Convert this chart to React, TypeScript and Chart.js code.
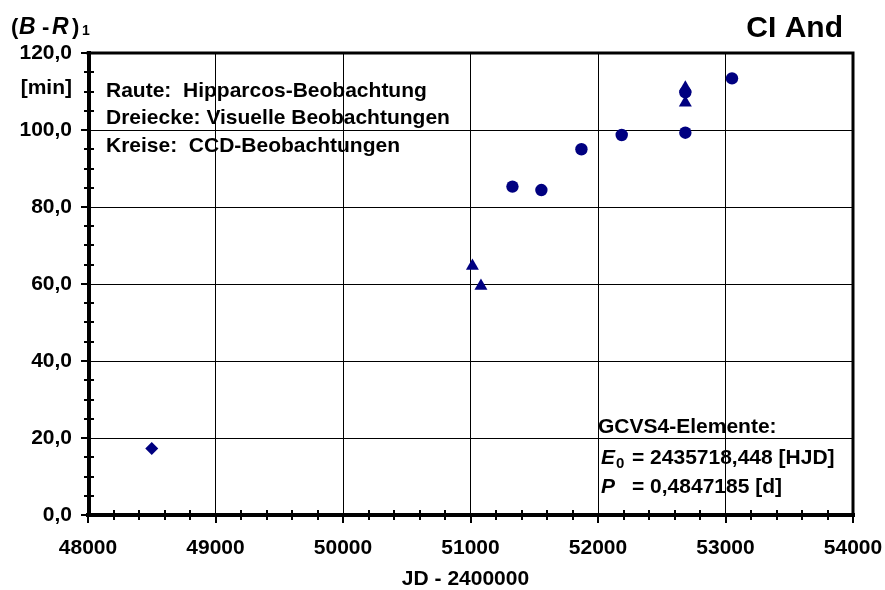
import { useEffect, useRef } from 'react';
import { Chart, registerables } from 'chart.js';

Chart.register(...registerables);

// ---- data ----
const hipparcosX = [48500];
const hipparcosY = [17.3];
const visualX = [51015, 51082, 52685, 52685];
const visualY = [64.7, 59.5, 111.0, 107.1];
const ccdX = [51329, 51556, 51870, 52186, 52685, 52685, 53051];
const ccdY = [85.3, 84.4, 95.0, 98.7, 99.3, 109.8, 113.4];

const xMin = 48000;
const xMax = 54000;
const xStep = 1000;
const xMinorStep = 200;
const yMin = 0;
const yMax = 120;
const yStep = 20;
const yMinorStep = 5;

const chartTitle = 'CI And';
const xAxisTitle = 'JD - 2400000';
const yUnit = '[min]';
const legendLines = [
  'Raute:  Hipparcos-Beobachtung',
  'Dreiecke: Visuelle Beobachtungen',
  'Kreise:  CCD-Beobachtungen',
];
const elementsTitle = 'GCVS4-Elemente:';
const epochText = '= 2435718,448 [HJD]';
const periodText = '= 0,4847185 [d]';

const FONT = '"Liberation Sans", Arial, Helvetica, sans-serif';
const NAVY = '#000080';

const toPoints = (xs: number[], ys: number[]) => xs.map((x, i) => ({ x, y: ys[i] }));

const overlay = {
  id: 'overlay',
  beforeDatasetsDraw(chart: any) {
    const ctx = chart.ctx;
    const { left, right, top, bottom } = chart.chartArea;
    const xs = chart.scales.x;
    const ys = chart.scales.y;
    ctx.save();
    ctx.strokeStyle = '#000';
    // frame
    ctx.lineCap = 'square';
    ctx.lineWidth = 3;
    ctx.beginPath();
    ctx.moveTo(left, top);
    ctx.lineTo(right, top);
    ctx.lineTo(right, bottom);
    ctx.stroke();
    ctx.lineWidth = 4;
    ctx.beginPath();
    ctx.moveTo(left + 1, top);
    ctx.lineTo(left + 1, bottom);
    ctx.moveTo(left, bottom);
    ctx.lineTo(right, bottom);
    ctx.stroke();
    // ticks
    ctx.lineCap = 'butt';
    ctx.lineWidth = 2;
    ctx.beginPath();
    for (let v = yMin; v <= yMax + 1e-9; v += yMinorStep) {
      const py = Math.round(ys.getPixelForValue(v));
      if (v % yStep === 0) {
        ctx.moveTo(left - 7, py);
        ctx.lineTo(left + 1, py);
      } else {
        ctx.moveTo(left - 4, py);
        ctx.lineTo(left + 6, py);
      }
    }
    for (let v = xMin; v <= xMax + 1e-9; v += xMinorStep) {
      const px = Math.round(xs.getPixelForValue(v));
      if (v % xStep === 0) {
        ctx.moveTo(px, bottom);
        ctx.lineTo(px, bottom + 8);
      } else {
        ctx.moveTo(px, bottom - 5);
        ctx.lineTo(px, bottom + 5);
      }
    }
    ctx.stroke();
    ctx.restore();
  },
  afterDraw(chart: any) {
    const ctx = chart.ctx;
    const { left, right } = chart.chartArea;
    ctx.save();
    ctx.fillStyle = '#000';
    ctx.textBaseline = 'alphabetic';

    // chart title
    ctx.font = `bold 30px ${FONT}`;
    ctx.textAlign = 'right';
    ctx.fillText(chartTitle, 843, 37);

    // y axis heading (B - R)1
    const plain = `bold 21px ${FONT}`;
    const ital = `italic bold 21px ${FONT}`;
    const hPlain = `bold 22px ${FONT}`;
    const hItal = `italic bold 23px ${FONT}`;
    ctx.textAlign = 'left';
    ctx.font = hPlain;
    ctx.fillText('(', 11, 34);
    ctx.font = hItal;
    ctx.fillText('B', 19, 34);
    ctx.font = hPlain;
    ctx.fillText('-', 42, 34);
    ctx.font = hItal;
    ctx.fillText('R', 52, 34);
    ctx.font = hPlain;
    ctx.fillText(')', 72, 34);
    ctx.font = `bold 14px ${FONT}`;
    ctx.fillText('1', 82, 35);

    // unit
    ctx.font = plain;
    ctx.textAlign = 'right';
    ctx.fillText(yUnit, 72, 94);

    // legend text
    ctx.textAlign = 'left';
    const legendBase = [97, 124, 152];
    legendLines.forEach((t, i) => ctx.fillText(t, 106, legendBase[i]));

    // elements
    ctx.fillText(elementsTitle, 598, 433);
    ctx.font = ital;
    ctx.fillText('E', 601, 464);
    ctx.font = `bold 15px ${FONT}`;
    ctx.fillText('0', 616, 468);
    ctx.font = plain;
    ctx.fillText(epochText, 632, 464);
    ctx.font = ital;
    ctx.fillText('P', 601, 493);
    ctx.font = plain;
    ctx.fillText(periodText, 632, 493);

    // x axis title
    ctx.textAlign = 'center';
    ctx.fillText(xAxisTitle, (left + right) / 2 - 5, 585);
    ctx.restore();
  },
};

export default function App() {
  const ref = useRef<HTMLCanvasElement | null>(null);
  useEffect(() => {
    if (!ref.current) return;
    const chart = new Chart(ref.current, {
      type: 'scatter',
      data: {
        datasets: [
          {
            label: 'Hipparcos',
            data: toPoints(hipparcosX, hipparcosY),
            pointStyle: 'rectRot',
            pointRadius: 6.5,
            backgroundColor: NAVY,
            borderColor: NAVY,
            borderWidth: 0,
          },
          {
            label: 'Visuell',
            data: toPoints(visualX, visualY),
            pointStyle: 'triangle',
            pointRadius: 7.5,
            backgroundColor: NAVY,
            borderColor: NAVY,
            borderWidth: 0,
          },
          {
            label: 'CCD',
            data: toPoints(ccdX, ccdY),
            pointStyle: 'circle',
            pointRadius: 6.2,
            backgroundColor: NAVY,
            borderColor: NAVY,
            borderWidth: 0,
          },
        ],
      },
      plugins: [overlay],
      options: {
        animation: false,
        responsive: false,
        maintainAspectRatio: false,
        devicePixelRatio: 1,
        layout: { padding: { left: 0, top: 53, right: 32, bottom: 0 } },
        plugins: {
          legend: { display: false },
          tooltip: { enabled: false },
          title: { display: false },
        },
        scales: {
          x: {
            type: 'linear',
            min: xMin,
            max: xMax,
            afterFit: (s: any) => {
              s.height = 75;
              s.paddingLeft = 0;
              s.paddingRight = 0;
            },
            afterBuildTicks: (s: any) => {
              const t = [];
              for (let v = xMin; v <= xMax; v += xStep) t.push({ value: v });
              s.ticks = t;
            },
            ticks: {
              stepSize: xStep,
              autoSkip: false,
              maxRotation: 0,
              padding: 21,
              color: '#000',
              font: { family: FONT, size: 21, weight: 'bold' },
              callback: (v: any) => String(v),
            },
            grid: { color: '#000', lineWidth: 1, drawTicks: false },
            border: { display: false },
          },
          y: {
            type: 'linear',
            min: yMin,
            max: yMax,
            afterFit: (s: any) => {
              s.width = 88;
              s.paddingTop = 0;
              s.paddingBottom = 0;
            },
            afterBuildTicks: (s: any) => {
              const t = [];
              for (let v = yMin; v <= yMax; v += yStep) t.push({ value: v });
              s.ticks = t;
            },
            ticks: {
              stepSize: yStep,
              autoSkip: false,
              padding: 16,
              color: '#000',
              font: { family: FONT, size: 21, weight: 'bold' },
              callback: (v: any) => Number(v).toFixed(1).replace('.', ','),
            },
            grid: { color: '#000', lineWidth: 1, drawTicks: false },
            border: { display: false },
          },
        },
      },
    } as any);
    return () => chart.destroy();
  }, []);
  return (
    <div style={{ position: 'absolute', left: 0, top: 0, width: 885, height: 590, background: '#fff' }}>
      <canvas ref={ref} width={885} height={590} style={{ width: 885, height: 590, display: 'block' }} />
    </div>
  );
}
